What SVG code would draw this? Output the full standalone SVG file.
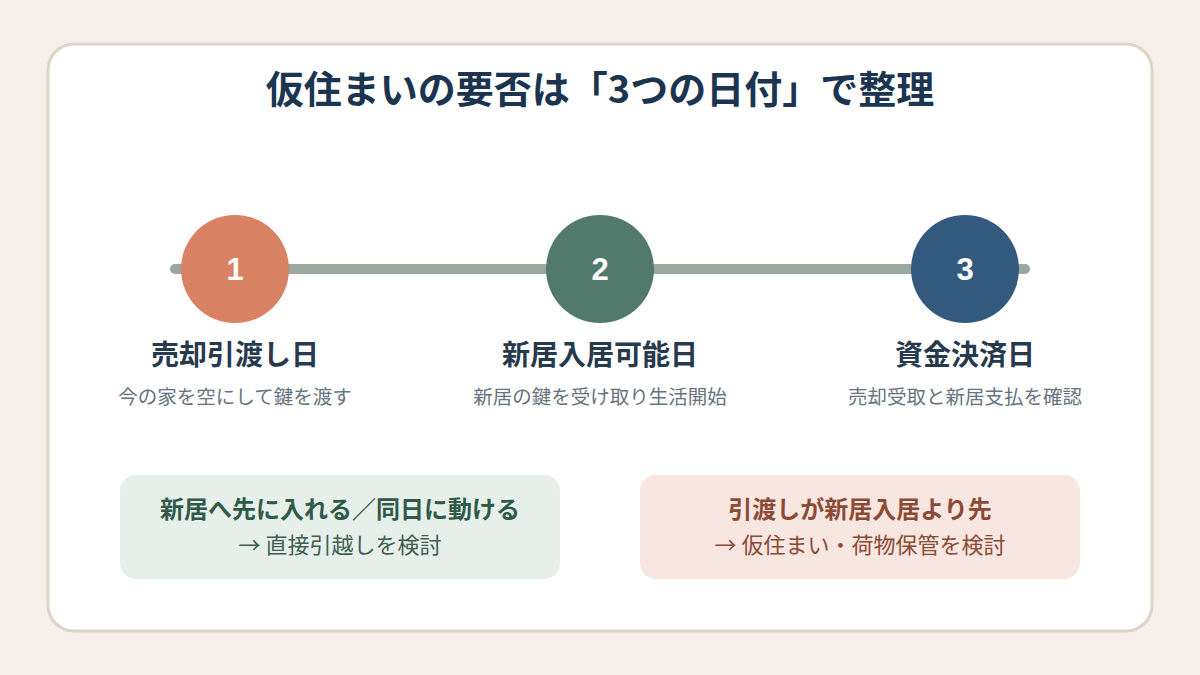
<svg xmlns="http://www.w3.org/2000/svg" width="1200" height="675" viewBox="0 0 1200 675">
<style>
.t{font-family:"Noto Sans CJK JP","Noto Sans",sans-serif;text-anchor:middle}
.title{font-size:38px;font-weight:700;fill:#1b3550}
.num{font-family:"Liberation Sans",Arial,sans-serif;font-size:31px;font-weight:700;fill:#ffffff;text-anchor:middle}
.lab{font-size:28px;font-weight:700;fill:#26394d}
.sub{font-size:19.5px;fill:#667380}
.bh{font-size:24px;font-weight:700}
.bs{font-size:22px}
</style>
<rect width="1200" height="675" fill="#f5f1ea"/>
<rect x="48" y="44" width="1104" height="587" rx="26" fill="#ffffff" stroke="#ddd6c7" stroke-width="3"/>
<text class="t title" x="600" y="103">仮住まいの要否は「3つの日付」で整理</text>
<g id="connectors">
<line x1="175" y1="269" x2="1025" y2="269" stroke="#9aa89f" stroke-width="10" stroke-linecap="round"/>
</g>
<g id="node1">
<circle cx="235" cy="269" r="54" fill="#d98163"/>
<text class="num" x="235" y="280">1</text>
<text class="t lab" x="235" y="365">売却引渡し日</text>
<text class="t sub" x="235" y="404">今の家を空にして鍵を渡す</text>
</g>
<g id="node2">
<circle cx="600" cy="269" r="54" fill="#527a6c"/>
<text class="num" x="600" y="280">2</text>
<text class="t lab" x="600" y="365">新居入居可能日</text>
<text class="t sub" x="600" y="404">新居の鍵を受け取り生活開始</text>
</g>
<g id="node3">
<circle cx="965" cy="269" r="54" fill="#335a7e"/>
<text class="num" x="965" y="280">3</text>
<text class="t lab" x="965" y="365">資金決済日</text>
<text class="t sub" x="965" y="404">売却受取と新居支払を確認</text>
</g>
<g id="box1">
<rect x="120" y="475" width="440" height="104" rx="16" fill="#e6efea"/>
<text class="t bh" x="340" y="518" fill="#2f5a48">新居へ先に入れる／同日に動ける</text>
<text class="t bs" x="340" y="553" fill="#3d5e51">→ 直接引越しを検討</text>
</g>
<g id="box2">
<rect x="640" y="475" width="440" height="104" rx="16" fill="#f8e6e0"/>
<text class="t bh" x="860" y="518" fill="#8a4a35">引渡しが新居入居より先</text>
<text class="t bs" x="860" y="553" fill="#8a4a35">→ 仮住まい・荷物保管を検討</text>
</g>
</svg>
